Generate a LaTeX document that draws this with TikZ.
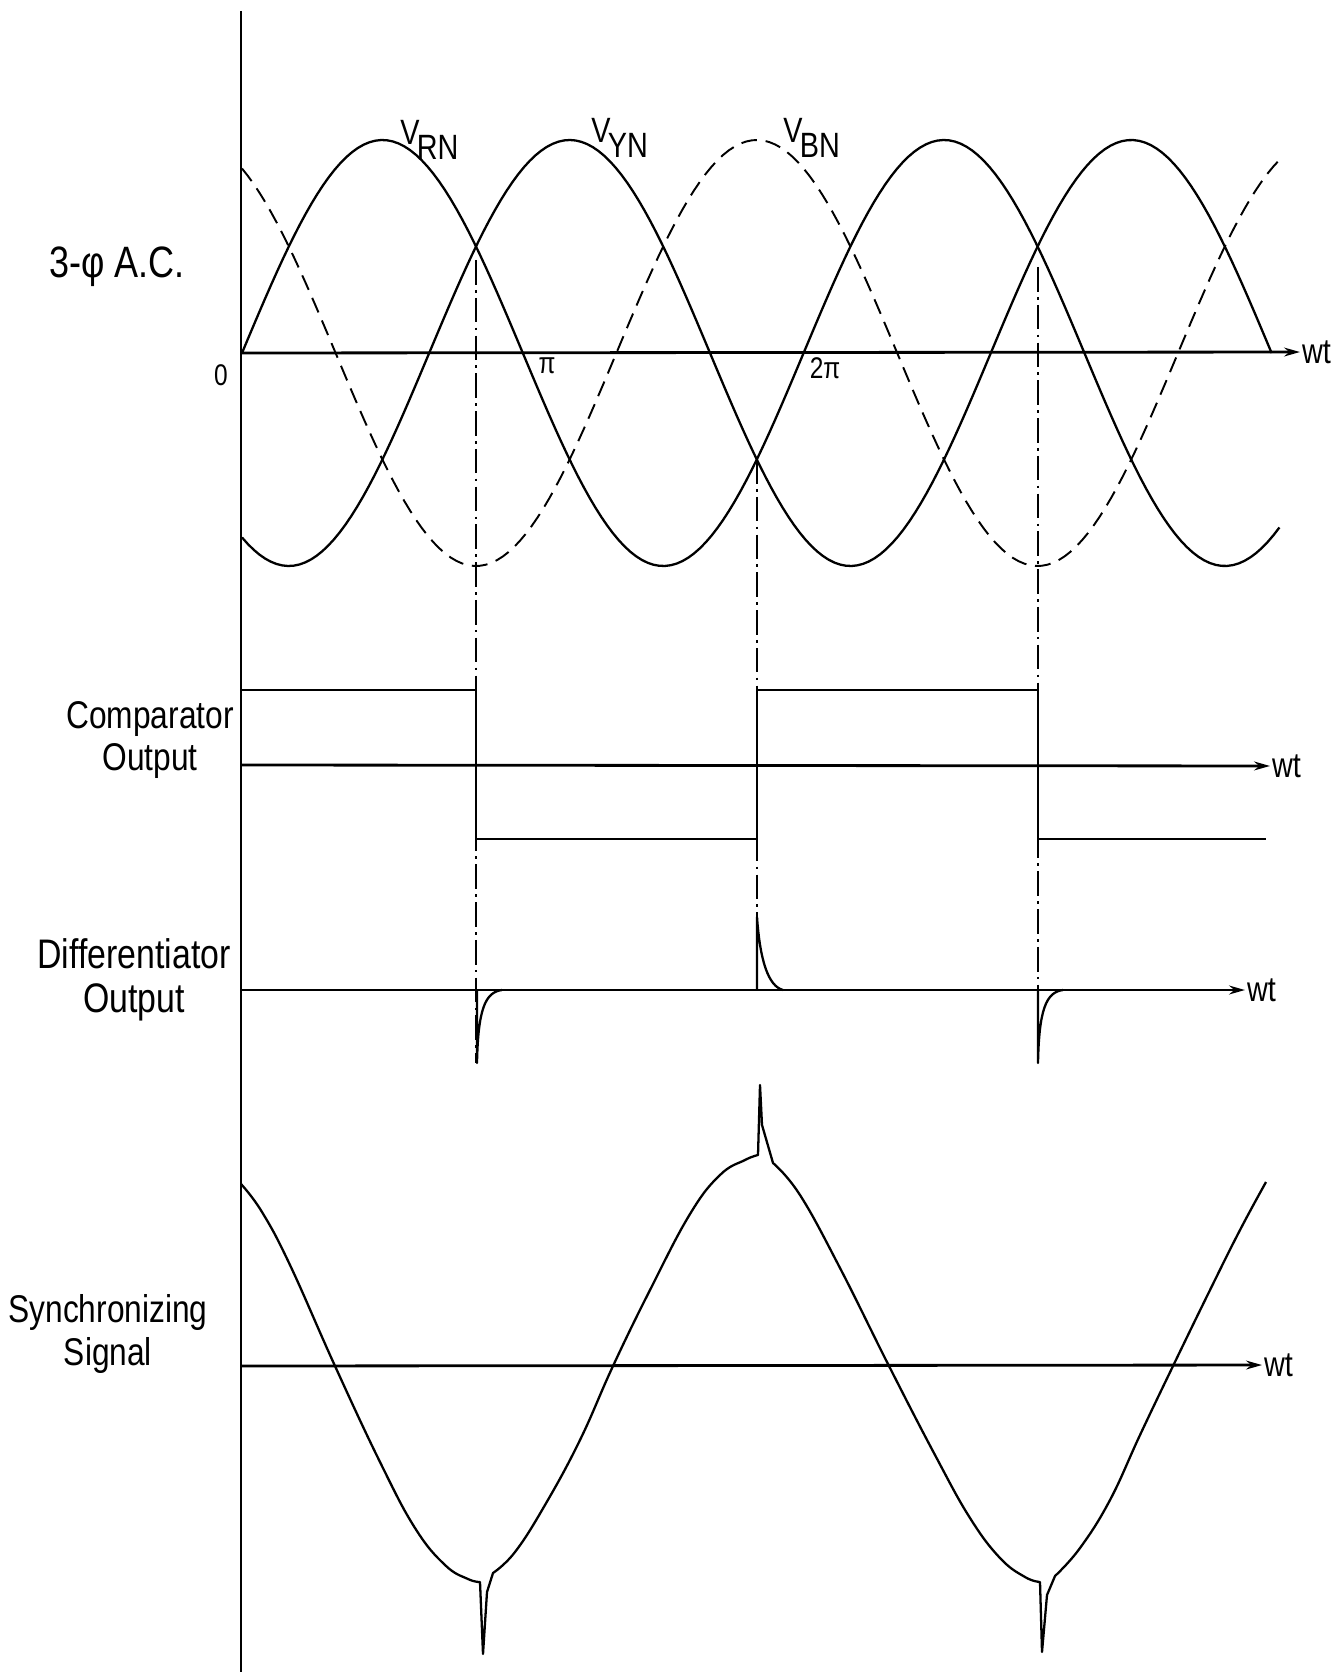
\documentclass[tikz,border=0pt]{standalone}
\usepackage{fontspec}
\setmainfont{Liberation Sans}[FakeStretch=0.82]
\usetikzlibrary{arrows.meta}
\newcommand{\vlab}[1]{V\kern-1.5pt\raisebox{-8pt}{#1}}

\begin{document}
\begin{tikzpicture}[
  x=0.02cm, y=-0.02cm,
  wave/.style={line width=1.3pt, line join=round},
  phase/.style={line width=1.1pt, dash pattern=on 9pt off 5pt},
  axis/.style={line width=1.6pt, -{Stealth[length=9pt,width=5pt]}},
  vaxis/.style={line width=1pt},
  guide/.style={line width=0.7pt, dash pattern=on 14pt off 3pt on 1.5pt off 3pt},
  lbl/.style={font=\fontsize{22}{24}\selectfont, align=center, inner sep=0pt},
  tag/.style={font=\fontsize{20}{22}\selectfont, inner sep=1pt},
  tick/.style={font=\fontsize{17}{18}\selectfont, inner sep=0pt},
]
\useasboundingbox (0,0) rectangle (1334,1672);

\coordinate (top) at (241,11);
\coordinate (bot) at (241,1672);
\draw[vaxis] (top) -- (bot);

% 3-phase supply
\node[lbl, font=\fontsize{25}{28}\selectfont] (acl) at (117,267) {3-φ A.C.};
\coordinate (o1) at (241,353);
\node[tag, anchor=west] (w1) at (1300,352) {wt};
\draw[axis] (o1) -- (w1);
\node[tick] (zero) at (221,375) {0};
\node[tick] (pi) at (547,366) {π};
\node[tick] (tpi) at (825,368) {2π};

\draw[wave] plot[domain=0:665, samples=180, variable=\t] ({242+1.56*\t}, {353-213*sin(\t)});
\draw[wave] plot[domain=0:660, samples=180, variable=\t] ({242+1.56*\t}, {353-213*sin(\t-120)});
\draw[phase] plot[domain=0:665, samples=180, variable=\t] ({242+1.56*\t}, {353-213*sin(\t+120)});

\node[tag, inner sep=0pt, anchor=base west] (vrn) at (400,145) {\vlab{RN}};
\node[tag, inner sep=0pt, anchor=base west] (vyn) at (591,143) {\vlab{YN}};
\node[tag, inner sep=0pt, anchor=base west] (vbn) at (783,143) {\vlab{BN}};

% comparator
\node[lbl] (cmp) at (150,740) {Comparator\\Output};
\coordinate (o2) at (241,765);
\node[tag, anchor=west] (w2) at (1270,766) {wt};
\draw[axis] (o2) -- (w2);
\draw[wave] (241,690) -- (476,690) -- (476,839) -- (757,839) -- (757,690)
  -- (1038,690) -- (1038,839) -- (1266,839);

% differentiator
\node[lbl, font=\fontsize{23.5}{25}\selectfont] (dif) at (134,980) {Differentiator\\Output};
\coordinate (o3) at (241,990);
\node[tag, anchor=west] (w3) at (1245,990) {wt};
\draw[axis] (o3) -- (w3);
\draw[wave] (477,990) -- (477,1063) .. controls (478,1010) and (485,992) .. (502,990);
\draw[wave] (757,990) -- (757,917) .. controls (760,960) and (768,986) .. (783,990);
\draw[wave] (1038,990) -- (1038,1063) .. controls (1039,1010) and (1046,992) .. (1063,990);

% synchronizing signal
\node[lbl] (syn) at (108,1334) {Synchronizing\\Signal};
\coordinate (o4) at (241,1366);
\node[tag, anchor=west] (w4) at (1262,1365) {wt};
\draw[axis] (o4) -- (w4);
\draw[wave] plot[smooth, tension=0.7] coordinates {(241,1184) (262,1212) (290,1265) (335,1366)
    (380,1462) (415,1528) (445,1565) (468,1579) (480,1582)}
  -- (483,1654) -- (487,1592) -- (493,1573)
  -- plot[smooth, tension=0.7] coordinates {(493,1573) (515,1552) (545,1505) (580,1440)
    (613,1366) (650,1290) (690,1214) (720,1175) (745,1160) (758,1155)}
  -- (760,1085) -- (762,1125) -- (773,1163)
  -- plot[smooth, tension=0.7] coordinates {(773,1163) (800,1195) (840,1268) (889,1366)
    (935,1455) (970,1518) (1000,1558) (1025,1577) (1040,1582)}
  -- (1042,1652) -- (1047,1595) -- (1055,1576)
  -- plot[smooth, tension=0.7] coordinates {(1055,1576) (1080,1548) (1110,1500) (1140,1435)
    (1173,1366) (1210,1290) (1240,1230) (1266,1182)};

% switching instants
\coordinate (c1) at (476,260);
\coordinate (c2) at (757,459);
\coordinate (c3) at (1038,267);
\coordinate (d1) at (476,1063);
\coordinate (d2) at (757,917);
\coordinate (d3) at (1038,1063);
\draw[guide] (c1) -- (d1);
\draw[guide] (c2) -- (d2);
\draw[guide] (c3) -- (d3);
\end{tikzpicture}
\end{document}
